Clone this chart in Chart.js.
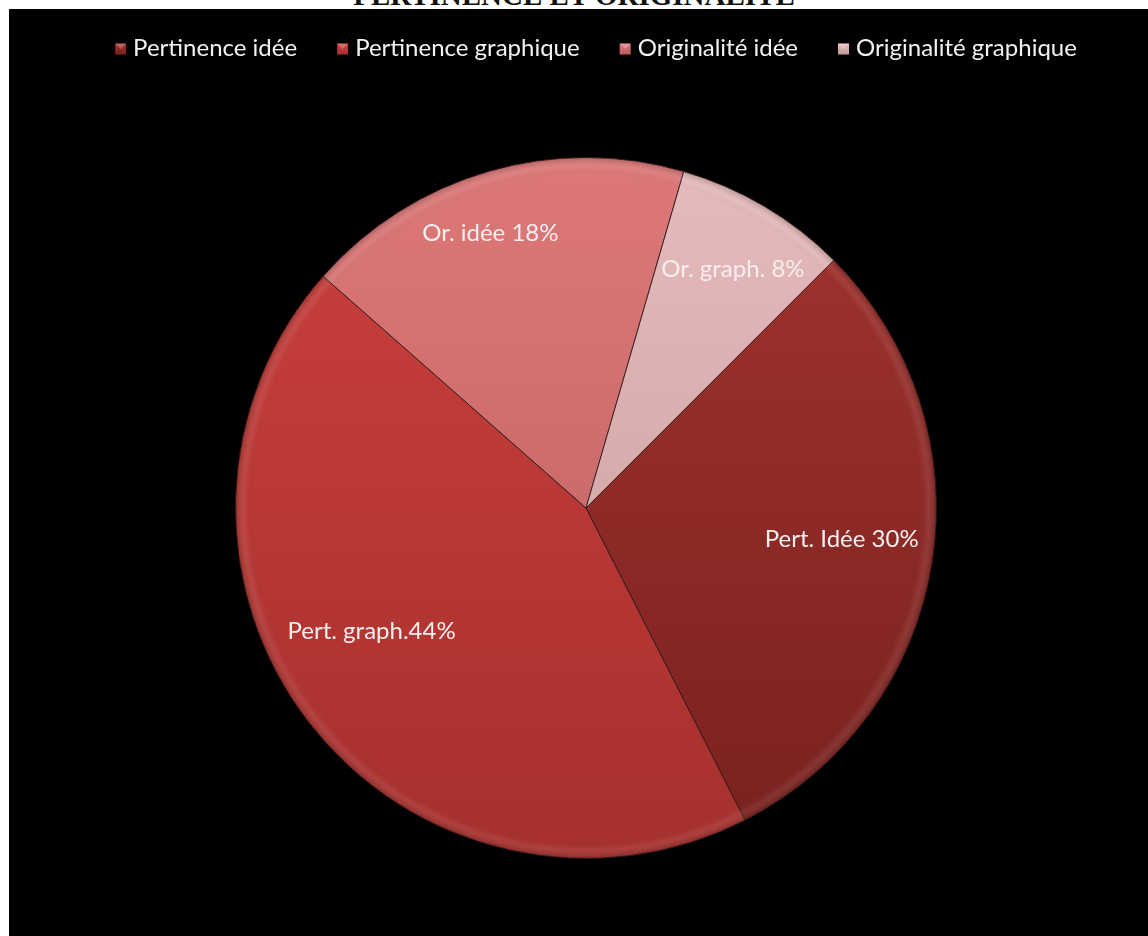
<!DOCTYPE html>
<html lang="fr">
<head>
<meta charset="utf-8">
<title>Pertinence et originalité</title>
<script src="https://cdn.jsdelivr.net/npm/chart.js@4.4.0/dist/chart.umd.min.js"></script>
<style>
  html, body { margin: 0; padding: 0; background: #fff; width: 1148px; height: 936px; overflow: hidden; }
  #titre {
    position: absolute; left: 0; top: -21px; width: 1148px; line-height: 29px;
    text-align: center; font: bold 29px "Liberation Serif", serif; color: #111;
  }
  #cadre { position: absolute; left: 9px; top: 9px; width: 1139px; height: 927px; background: #000; }
</style>
</head>
<body>
<div id="titre">PERTINENCE ET ORIGINALITÉ</div>
<div id="cadre"><canvas id="camembert" width="1139" height="927"></canvas></div>

<script>
// ---------------------------------------------------------
// Données
// ---------------------------------------------------------
const categories = ["Pertinence idée", "Pertinence graphique", "Originalité idée", "Originalité graphique"];
const etiquettes = ["Pert. Idée ", "Pert. graph.", "Or. idée ", "Or. graph. "];
const valeurs = [30, 44, 18, 8];

// dégradé vertical de chaque part (haut -> bas)
const couleursHaut = ["#a3332f", "#cc403d", "#dd7878", "#e6bbbb"];
const couleursBas = ["#78211e", "#a6302d", "#bb5e5e", "#c89a9a"];

const POLICE = "Lato, 'Open Sans', sans-serif";

function degradePart(ctx) {
  const area = ctx.chart.chartArea;
  const i = ctx.dataIndex;
  if (!area) return couleursHaut[i];
  const g = ctx.chart.ctx.createLinearGradient(0, area.top, 0, area.bottom);
  g.addColorStop(0, couleursHaut[i]);
  g.addColorStop(1, couleursBas[i]);
  return g;
}

// ---------------------------------------------------------
// Reflet sur le bord + étiquettes des parts
// ---------------------------------------------------------
const etiquettesParts = {
  id: "etiquettesParts",
  afterDatasetsDraw(chart, args, opts) {
    const ctx = chart.ctx;
    const arcs = chart.getDatasetMeta(0).data;
    if (!arcs.length) return;
    const c = arcs[0].getProps(["x", "y", "outerRadius"], true);

    // léger biseau le long du cercle
    ctx.save();
    const rg = ctx.createRadialGradient(c.x, c.y, 0, c.x, c.y, c.outerRadius);
    rg.addColorStop(0, "rgba(0,0,0,0)");
    rg.addColorStop(0.95, "rgba(0,0,0,0)");
    rg.addColorStop(0.975, "rgba(255,255,255,0.07)");
    rg.addColorStop(1, "rgba(0,0,0,0.2)");
    ctx.fillStyle = rg;
    ctx.beginPath();
    ctx.arc(c.x, c.y, c.outerRadius, 0, Math.PI * 2);
    ctx.fill();
    ctx.restore();

    ctx.save();
    ctx.font = opts.font;
    ctx.fillStyle = opts.color;
    ctx.textAlign = "center";
    ctx.textBaseline = "middle";
    arcs.forEach((arc, i) => {
      const p = arc.getProps(["x", "y", "startAngle", "endAngle", "outerRadius"], true);
      const pl = opts.placement[i];
      const a = (p.startAngle + p.endAngle) / 2 + pl.da * Math.PI / 180;
      const r = p.outerRadius * pl.r;
      ctx.fillText(etiquettes[i] + valeurs[i] + "%", p.x + Math.cos(a) * r, p.y + Math.sin(a) * r);
    });
    ctx.restore();
  }
};

// ---------------------------------------------------------
// Légende en haut (carrés + textes)
// ---------------------------------------------------------
const legendeHaut = {
  id: "legendeHaut",
  afterDraw(chart, args, opts) {
    const ctx = chart.ctx;
    ctx.save();
    ctx.font = opts.font;
    ctx.textBaseline = "middle";
    ctx.textAlign = "left";
    const largeurs = categories.map((t) => ctx.measureText(t).width);
    const total = largeurs.reduce((s, w) => s + opts.box + opts.gapTexte + w, 0) + opts.gapItems * (categories.length - 1);
    let x = opts.centreX - total / 2;
    categories.forEach((t, i) => {
      const by = opts.y - opts.box / 2 + 1;
      const g = ctx.createLinearGradient(0, by, 0, by + opts.box);
      g.addColorStop(0, couleursHaut[i]);
      g.addColorStop(1, couleursBas[i]);
      ctx.fillStyle = g;
      ctx.fillRect(x, by, opts.box, opts.box);
      // biseau clair en haut du carré
      ctx.fillStyle = "rgba(255,255,255,0.25)";
      ctx.beginPath();
      ctx.moveTo(x, by);
      ctx.lineTo(x + opts.box, by);
      ctx.lineTo(x + opts.box / 2, by + opts.box / 2);
      ctx.closePath();
      ctx.fill();
      x += opts.box + opts.gapTexte;
      ctx.fillStyle = opts.color;
      ctx.fillText(t, x, opts.y);
      x += largeurs[i] + opts.gapItems;
    });
    ctx.restore();
  }
};

new Chart(document.getElementById("camembert"), {
  type: "pie",
  data: {
    labels: categories,
    datasets: [
      {
        data: valeurs,
        backgroundColor: degradePart,
        borderColor: "rgba(45,25,25,0.85)",
        borderWidth: 1,
      },
    ],
  },
  options: {
    responsive: false,
    animation: false,
    rotation: 45,
    layout: { padding: { top: 148, bottom: 77, left: 15, right: 0 } },
    plugins: {
      legend: { display: false },
      tooltip: { enabled: false },
      etiquettesParts: {
        font: "24px " + POLICE,
        color: "#f4eeee",
        placement: [
          { r: 0.735, da: -2 },
          { r: 0.705, da: 8 },
          { r: 0.83, da: -3 },
          { r: 0.80, da: 1 },
        ],
      },
      legendeHaut: {
        font: "24px " + POLICE,
        color: "#f2f2f2",
        y: 39,
        centreX: 587,
        box: 11,
        gapTexte: 7,
        gapItems: 40,
      },
    },
  },
  plugins: [etiquettesParts, legendeHaut],
});
</script>
</body>
</html>
